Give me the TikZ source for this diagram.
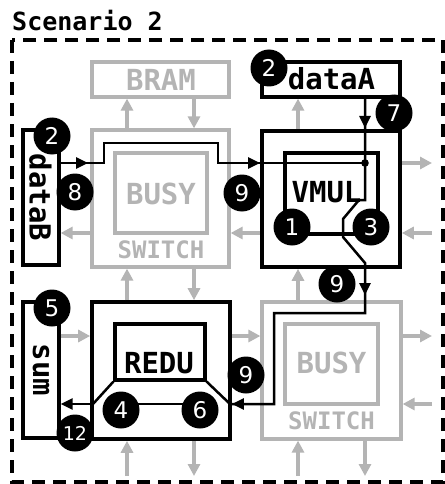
\documentclass[tikz,border=0pt]{standalone}
\usepackage{fontspec}
\newfontfamily\mono{DejaVu Sans Mono}
\newfontfamily\numfont{DejaVu Sans}
\usetikzlibrary{arrows.meta,calc}
\definecolor{lg}{RGB}{180,180,180}
\begin{document}
\begin{tikzpicture}[x=1pt,y=-1pt,
  gbox/.style={draw=lg, line width=3.2pt, inner sep=0pt},
  bbox/.style={draw=black, line width=3.6pt, inner sep=0pt},
  dbox/.style={draw=black, line width=3.2pt, inner sep=0pt},
  num/.style={circle, fill=black, minimum size=37pt, inner sep=0pt, text=white, font=\numfont\fontsize{23}{23}\selectfont},
  smallnum/.style={num, font=\numfont\fontsize{19}{19}\selectfont},
  garr/.style={draw=lg, line width=3.2pt, -{Triangle[length=12pt,width=12pt]}},
  bline/.style={line width=2.5pt, line join=miter},
  barr/.style={bline, -{Triangle[length=12pt,width=11pt]}},
  lbl/.style={font=\mono\bfseries\fontsize{29}{29}\selectfont, inner sep=0pt},
  swl/.style={font=\mono\bfseries\fontsize{24}{24}\selectfont, inner sep=0pt, text=lg}
]
\useasboundingbox (0,0) rectangle (444,484);

% title and frame
\node[font=\mono\bfseries\fontsize{25}{25}\selectfont, anchor=base west, inner sep=0pt] (title) at (12,31) {Scenario 2};
\draw[line width=3.6pt, dash pattern=on 13pt off 8pt] (12,40) rectangle (443,482);

% lane coordinates
\coordinate (r1a) at (0,163);
\coordinate (r1b) at (0,233);
\coordinate (r2a) at (0,336);
\coordinate (r2b) at (0,404);
\coordinate (c1a) at (127,0);
\coordinate (c1b) at (194,0);
\coordinate (c2a) at (298,0);
\coordinate (c2b) at (365,0);
\coordinate (ex) at (432,0);
\coordinate (ey) at (0,476);

% gray parts
\node[gbox, minimum width=137pt, minimum height=35pt] (bram) at (160.5,79.5) {};
\node[lbl, text=lg] (bramt) at (161,79.5) {BRAM};
\node[gbox, minimum width=137pt, minimum height=137pt] (sw1) at (160.5,198.5) {};
\node[gbox, minimum width=92pt, minimum height=80pt] (busy1) at (161,193) {};
\node[lbl, text=lg] (busy1t) at (161,193.5) {BUSY};
\node[swl] (sw1t) at (161,250) {SWITCH};
\node[gbox, minimum width=139pt, minimum height=137pt] (sw4) at (331.5,370.5) {};
\node[gbox, minimum width=93pt, minimum height=80pt] (busy4) at (331.5,364) {};
\node[lbl, text=lg] (busy4t) at (331.5,363) {BUSY};
\node[swl] (sw4t) at (331.5,421) {SWITCH};

% black boxes
\node[dbox, minimum width=138pt, minimum height=35pt] (dataA) at (331,79.5) {};
\node[lbl] (dataAt) at (331.5,79) {dataA};
\node[dbox, minimum width=36pt, minimum height=135pt] (dataB) at (41,197.5) {};
\node[lbl, rotate=-90] (dataBt) at (40.5,197.5) {dataB};
\node[dbox, minimum width=36pt, minimum height=136pt] (sum) at (41,370) {};
\node[lbl, rotate=-90] (sumt) at (41,370) {sum};
\node[bbox, minimum width=138pt, minimum height=136pt] (sw2) at (331,199) {};
\node[dbox, minimum width=93pt, minimum height=81pt] (vmul) at (331.5,193.5) {};
\node[lbl] (vmult) at (326.5,192.5) {VMUL};
\node[bbox, minimum width=138pt, minimum height=137pt] (sw3) at (161,370.5) {};
\node[dbox, minimum width=90pt, minimum height=56pt] (redu) at (160,352) {};
\node[lbl] (redut) at (159,363) {REDU};

% gray arrows
\draw[garr] (sw1.north -| c1a) -- (bram.south -| c1a);
\draw[garr] (bram.south -| c1b) -- (sw1.north -| c1b);
\draw[garr] (sw2.north -| c2a) -- (dataA.south -| c2a);
\draw[garr] (sw1.west |- r1b) -- (dataB.east |- r1b);
\draw[garr] (sw2.west |- r1b) -- (sw1.east |- r1b);
\draw[garr] (sw2.east |- r1a) -- (ex |- r1a);
\draw[garr] (ex |- r1b) -- (sw2.east |- r1b);
\draw[garr] (sw3.north -| c1a) -- (sw1.south -| c1a);
\draw[garr] (sw1.south -| c1b) -- (sw3.north -| c1b);
\draw[garr] (sw4.north -| c2a) -- (sw2.south -| c2a);
\draw[garr] (sum.east |- r2a) -- (sw3.west |- r2a);
\draw[garr] (sw3.east |- r2a) -- (sw4.west |- r2a);
\draw[garr] (sw4.east |- r2a) -- (ex |- r2a);
\draw[garr] (ex |- r2b) -- (sw4.east |- r2b);
\draw[garr] (ey -| c1a) -- (sw3.south -| c1a);
\draw[garr] (sw3.south -| c1b) -- (ey -| c1b);
\draw[garr] (ey -| c2a) -- (sw4.south -| c2a);
\draw[garr] (sw4.south -| c2b) -- (ey -| c2b);

% black data paths
\coordinate (dot) at (365,163);
\draw[bline] (dataB.east |- dot) -- (104,163) -- (104,143) -- (218,143) -- (218,163) -- (dot);
\draw[barr] (dataB.east |- dot) -- (88,163);
\draw[barr] (218,163) -- (sw2.west |- dot);
\fill (dot) circle (3.8);

\draw[bline] (dataA.south -| dot) -- (dot) -- (365,200) -- (359,200) -- (343,219) -- (343,237) -- (365,263) -- (365,313) -- (274,313) -- (274,404) -- (sw3.east |- r2b);
\draw[barr] (dataA.south -| dot) -- (365,128);
\draw[barr] (365,280) -- (365,295);
\draw[barr] (274,404) -- (sw3.east |- r2b);

\draw[bline] (redu.south west) -- (93,404);
\draw[barr] (93,404) -- (sum.east |- r2b);
\draw[bline] (redu.south east) -- (230,404);
\draw[bline] (121,404) -- (200,404);

% numbered circles
\node[num] (n2a) at (269,68) {2};
\node[num] (n7) at (394,113) {7};
\node[num] (n2b) at (52,136) {2};
\node[num] (n8) at (75,192) {8};
\node[num] (n9a) at (242,193) {9};
\node[num] (n1) at (292,227) {1};
\node[num] (n3) at (371,227) {3};
\node[num] (n9b) at (337,284) {9};
\node[num] (n5) at (52,308) {5};
\node[num] (n9c) at (246,375) {9};
\node[num] (n4) at (121,410) {4};
\node[num] (n6) at (200,410) {6};
\node[smallnum] (n12) at (75,433) {12};
\end{tikzpicture}
\end{document}
